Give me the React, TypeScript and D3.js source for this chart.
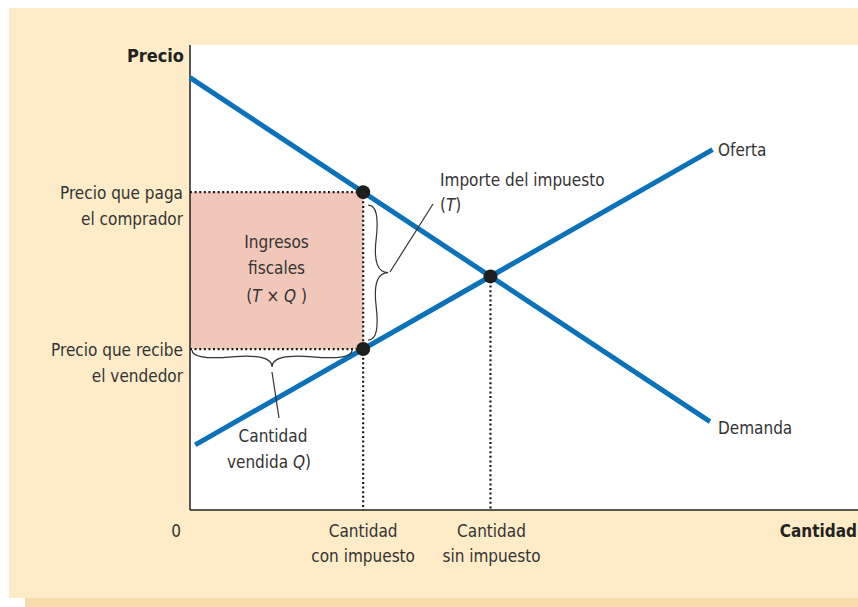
import React, { useRef, useEffect } from "react"
import * as d3 from "d3"

// market lines (quantity, price)
const demandLine = [{ q: 0, p: 9.3 }, { q: 10, p: 1.9 }]
const supplyLine = [{ q: 0.1, p: 1.4 }, { q: 10.05, p: 7.75 }]
const taxQuantity = 3.33

const buyerPriceLabel = ["Precio que paga", "el comprador"]
const sellerPriceLabel = ["Precio que recibe", "el vendedor"]
const taxQtyLabel = ["Cantidad", "con impuesto"]
const noTaxQtyLabel = ["Cantidad", "sin impuesto"]

const W = 858
const H = 607
const FONT = "'DejaVu Sans Condensed', 'Liberation Sans Narrow', Roboto, sans-serif"

function lineAt(line: { q: number; p: number }[], q: number) {
  const [a, b] = line
  return a.p + ((b.p - a.p) * (q - a.q)) / (b.q - a.q)
}

// curly brace between two points, bulging to the left of the direction of travel
function brace(x1: number, y1: number, x2: number, y2: number, w: number, q: number) {
  let dx = x1 - x2
  let dy = y1 - y2
  const len = Math.sqrt(dx * dx + dy * dy)
  dx = dx / len
  dy = dy / len
  const qx1 = x1 + q * w * dy, qy1 = y1 - q * w * dx
  const qx2 = x1 - 0.25 * len * dx + (1 - q) * w * dy, qy2 = y1 - 0.25 * len * dy - (1 - q) * w * dx
  const tx1 = x1 - 0.5 * len * dx + w * dy, ty1 = y1 - 0.5 * len * dy - w * dx
  const qx3 = x2 + q * w * dy, qy3 = y2 - q * w * dx
  const qx4 = x1 - 0.75 * len * dx + (1 - q) * w * dy, qy4 = y1 - 0.75 * len * dy - (1 - q) * w * dx
  return `M ${x1} ${y1} Q ${qx1} ${qy1} ${qx2} ${qy2} T ${tx1} ${ty1} M ${x2} ${y2} Q ${qx3} ${qy3} ${qx4} ${qy4} T ${tx1} ${ty1}`
}

export default function App() {
  const el = useRef<SVGSVGElement>(null)

  useEffect(() => {
    const svg = d3.select(el.current)
    svg.selectAll("*").remove()

    const x = d3.scaleLinear().domain([0, 10]).range([190, 710])
    const y = d3.scaleLinear().domain([0, 10]).range([510, 45])

    // background panel
    svg.append("rect").attr("x", 25).attr("y", 598).attr("width", W).attr("height", 12).attr("fill", "#f6dcaa")
    svg.append("rect").attr("x", 9).attr("y", 8).attr("width", W).attr("height", 590).attr("fill", "#fdecc7")
    svg.append("rect").attr("x", x(0)).attr("y", y(10)).attr("width", W - x(0)).attr("height", y(0) - y(10)).attr("fill", "#fff")

    // derived points
    const slopeD = (demandLine[1].p - demandLine[0].p) / (demandLine[1].q - demandLine[0].q)
    const slopeS = (supplyLine[1].p - supplyLine[0].p) / (supplyLine[1].q - supplyLine[0].q)
    const qEq = (lineAt(supplyLine, 0) - lineAt(demandLine, 0)) / (slopeD - slopeS)
    const pEq = lineAt(demandLine, qEq)
    const pBuyer = lineAt(demandLine, taxQuantity)
    const pSeller = lineAt(supplyLine, taxQuantity)

    const X0 = x(0), Xt = x(taxQuantity), Xe = x(qEq)
    const Yb = y(pBuyer), Ys = y(pSeller), Ye = y(pEq), Y0 = y(0)

    // tax revenue area
    svg.append("rect").attr("x", X0).attr("y", Yb).attr("width", Xt - X0).attr("height", Ys - Yb).attr("fill", "#f1c7ba")

    // dotted guides
    const dotted = (x1: number, y1: number, x2: number, y2: number) =>
      svg.append("line").attr("x1", x1).attr("y1", y1).attr("x2", x2).attr("y2", y2)
        .attr("stroke", "#1a1a1a").attr("stroke-width", 2.2).attr("stroke-dasharray", "2,2.6")
    dotted(X0, Yb, Xt, Yb)
    dotted(X0, Ys, Xt, Ys)
    dotted(Xt, Yb, Xt, Y0)
    dotted(Xe, Ye, Xe, Y0)

    // axes
    svg.append("line").attr("x1", X0).attr("y1", y(10)).attr("x2", X0).attr("y2", Y0).attr("stroke", "#222").attr("stroke-width", 1.5)
    svg.append("line").attr("x1", X0).attr("y1", Y0).attr("x2", W).attr("y2", Y0).attr("stroke", "#222").attr("stroke-width", 1.5)

    // curves
    const line = d3.line<{ q: number; p: number }>().x(d => x(d.q)).y(d => y(d.p))
    svg.append("path").attr("d", line(demandLine)).attr("fill", "none").attr("stroke", "#0a72bb").attr("stroke-width", 5)
    svg.append("path").attr("d", line(supplyLine)).attr("fill", "none").attr("stroke", "#0a72bb").attr("stroke-width", 5)

    // points
    ;[[Xt, Yb], [Xt, Ys], [Xe, Ye]].forEach(([cx, cy]) => {
      svg.append("circle").attr("cx", cx).attr("cy", cy).attr("r", 7).attr("fill", "#1e1e1e")
    })

    // braces and leaders
    const thin = { stroke: "#333", "stroke-width": 1.2, fill: "none" }
    const vb = svg.append("path").attr("d", brace(Xt + 5, Ys - 9, Xt + 5, Yb + 13, 20, 0.6))
    const hb = svg.append("path").attr("d", brace(X0 + 2, Ys + 1, Xt - 11, Ys + 1, 17, 0.6))
    const l1 = svg.append("line").attr("x1", 390).attr("y1", 272).attr("x2", 433).attr("y2", 204)
    const l2 = svg.append("line").attr("x1", 272).attr("y1", 372).attr("x2", 279).attr("y2", 418)
    ;[vb, hb, l1, l2].forEach(s => Object.entries(thin).forEach(([k, v]) => s.attr(k, v as any)))

    // text
    const text = (tx: number, ty: number, str: string, anchor = "start", weight = "normal") =>
      svg.append("text").attr("x", tx).attr("y", ty).attr("text-anchor", anchor)
        .attr("font-family", FONT).attr("font-size", 17).attr("font-weight", weight)
        .attr("fill", "#333").text(str)

    text(184, 62, "Precio", "end", "bold").attr("fill", "#222").attr("font-size", 18)
    text(857, 537, "Cantidad", "end", "bold").attr("fill", "#222").attr("font-size", 17)
    text(176, 537, "0", "middle")

    buyerPriceLabel.forEach((s, i) => text(183, Yb + 7 + i * 26, s, "end"))
    sellerPriceLabel.forEach((s, i) => text(183, Ys + 7 + i * 26, s, "end"))
    taxQtyLabel.forEach((s, i) => text(Xt, 537 + i * 25, s, "middle"))
    noTaxQtyLabel.forEach((s, i) => text(Xe + 1, 537 + i * 25, s, "middle"))

    text(718, 156, "Oferta")
    text(718, 434, "Demanda")

    text(440, 186, "Importe del impuesto")
    const t1 = text(440, 211, "(")
    t1.append("tspan").attr("font-style", "italic").text("T")
    t1.append("tspan").text(")")

    const cx = (X0 + Xt) / 2
    text(cx, 248, "Ingresos", "middle")
    text(cx, 274, "fiscales", "middle")
    const t2 = text(cx, 302, "(", "middle")
    t2.append("tspan").attr("font-style", "italic").text("T")
    t2.append("tspan").text(" \u00d7 ")
    t2.append("tspan").attr("font-style", "italic").text("Q")
    t2.append("tspan").text(" )")

    text(273, 442, "Cantidad", "middle")
    const t3 = text(269, 468, "vendida ", "middle")
    t3.append("tspan").attr("font-style", "italic").text("Q")
    t3.append("tspan").text(")")
  }, [])

  return (
    <svg ref={el} width={W} height={H}
      style={{ position: "absolute", left: 0, top: 0, display: "block", background: "#fff" }} />
  )
}
